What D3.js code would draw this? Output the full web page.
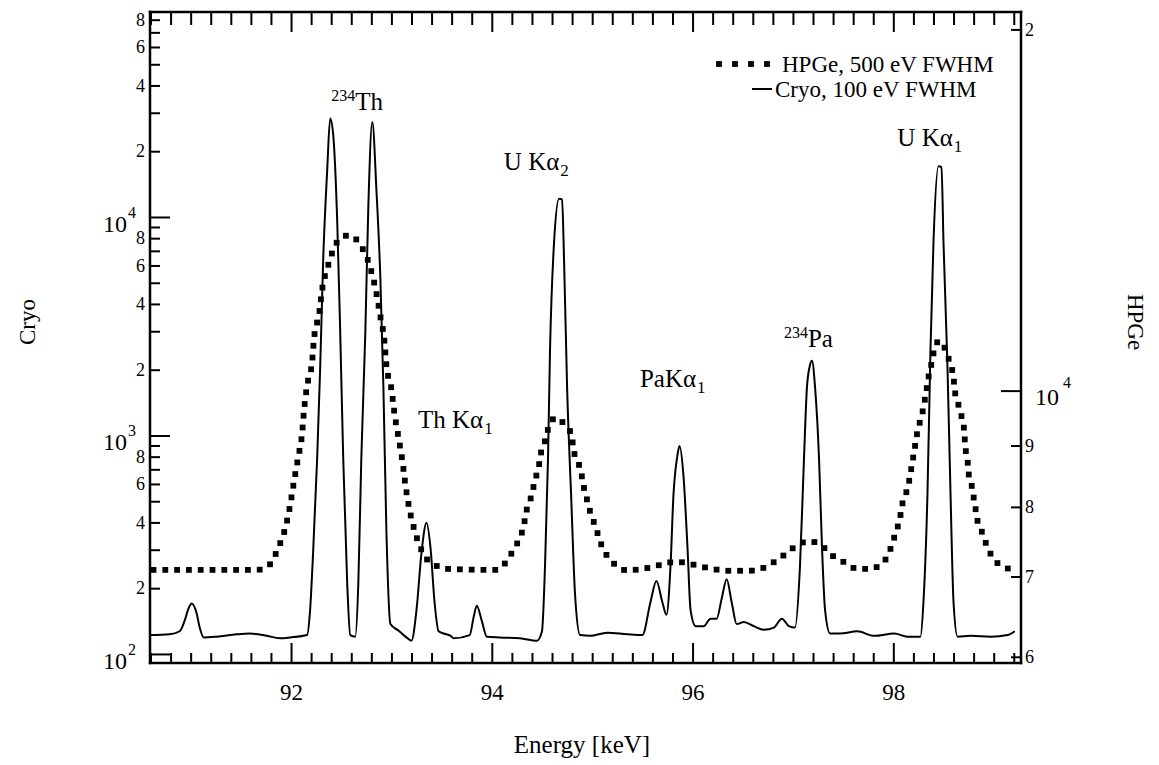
<!DOCTYPE html>
<html>
<head>
<meta charset="utf-8">
<script src="https://cdn.jsdelivr.net/npm/d3@7"></script>
<style>
  html, body { margin: 0; padding: 0; background: #fff; }
  svg { display: block; }
  text { font-family: "Liberation Serif", "Times New Roman", serif; fill: #000; }
</style>
</head>
<body>
<svg id="chart" width="1159" height="765"></svg>
<script>
// ---------------- data ----------------
const cryoEnergy = [90.59,90.79,90.89,90.94,90.98,91.01,91.06,91.09,91.13,91.26,91.46,91.59,91.76,91.89,91.99,92.16,92.19,92.22,92.26,92.29,92.32,92.36,92.39,92.42,92.46,92.49,92.52,92.56,92.59,92.64,92.67,92.70,92.74,92.77,92.81,92.85,92.89,92.92,92.95,92.99,93.07,93.14,93.20,93.25,93.30,93.35,93.39,93.43,93.47,93.52,93.59,
  93.62,93.78,93.82,93.85,93.90,93.95,94.08,94.28,94.45,94.50,94.53,94.56,94.58,94.62,94.67,94.70,94.72,94.75,94.79,94.83,94.88,94.98,95.15,95.35,95.50,95.58,95.64,95.70,95.74,95.78,95.81,95.85,95.87,95.91,95.95,95.98,96.03,96.11,96.18,96.24,96.29,96.34,96.39,96.44,
  96.51,96.61,96.71,96.81,96.89,96.96,97.02,97.07,97.11,97.14,97.17,97.19,97.22,97.26,97.29,97.32,97.37,97.47,97.64,97.81,98.01,98.14,98.27,98.30,98.34,98.37,98.40,98.45,98.48,98.50,98.54,98.57,98.60,98.64,98.77,98.97,99.14,99.21];
const cryoCounts = [122,123,127,142,162,170,153,132,119,120,123,124,121,118,119,122,159,292,783,2023,6310,16300,28250,23800,9577,2955,783,208,122,120,208,783,2955,11150,27180,13470,5222,1673,367,137,128,120,115,159,292,399,304,172,127,124,121,
  118,122,148,166,142,120,119,118,115,127,251,783,2446,7630,12120,12030,6310,1673,536,185,122,121,125,123,122,172,216,172,151,251,536,814,895,649,304,159,134,134,145,145,179,220,172,137,
  140,134,129,132,145,134,132,251,783,1673,2101,2198,1673,783,304,159,124,124,127,121,124,120,120,172,536,2446,7630,17050,16920,7630,2023,536,172,120,121,120,122,127];

const hpgeEnergy = [90.61,91.66,91.78,91.85,91.90,91.94,91.99,92.03,92.07,92.11,92.13,92.16,92.21,92.23,92.28,92.31,92.37,92.47,92.58,92.69,92.79,92.85,92.89,92.93,92.95,93.00,93.03,93.07,93.11,93.14,93.18,93.24,93.34,93.44,93.55,94.03,94.15,94.22,94.28,94.32,94.34,94.38,94.41,94.44,94.47,94.49,94.53,94.56,94.64,94.72,94.80,94.81,94.85,94.89,94.91,94.94,94.97,95.01,95.05,95.09,95.15,95.25,95.36,95.48,95.60,95.72,95.84,95.96,96.08,96.20,96.33,96.44,96.56,96.68,96.80,96.92,97.04,97.16,97.28,97.40,97.52,97.64,97.76,97.88,97.96,98.00,98.04,98.07,98.09,98.13,98.16,98.18,98.20,98.22,98.24,98.27,98.30,98.32,98.34,98.36,98.39,98.41,98.46,98.53,98.57,98.60,98.61,98.64,98.67,98.70,98.71,98.72,98.74,98.75,98.78,98.80,98.82,98.84,98.89,98.93,98.99,99.08,99.20];
const hpgeCounts = [7089,7089,7151,7318,7492,7664,8017,8403,8789,9206,9642,10093,10573,11073,11592,12141,12719,13333,13474,13225,12657,12058,11530,10998,10500,10031,9576,9144,8728,8339,7962,7600,7261,7151,7103,7089,7211,7378,7543,7726,7906,8088,8279,8472,8667,8873,9082,9285,9497,9380,9163,8954,8753,8549,8356,8166,7977,7798,7621,7445,7278,7141,7077,7103,7126,7176,7200,7176,7136,7103,7077,7077,7077,7103,7187,7302,7430,7492,7430,7278,7187,7103,7103,7166,7336,7506,7681,7864,8044,8230,8426,8621,8819,9028,9240,9451,9676,9899,10127,10368,10609,10853,11004,10757,10500,10261,10031,9797,9576,9361,9144,8937,8737,8533,8339,8150,7962,7780,7600,7430,7261,7141,7093];

const xMajorTicks = [92, 94, 96, 98];
const leftDecades = [100, 1000, 10000];
const leftDecadeExp = ["2", "3", "4"];
const leftMinorDigits = [2, 3, 4, 5, 6, 7, 8, 9];
const leftLabelDigits = [2, 4, 6, 8];
const rightMinorTicks = [6000, 7000, 8000, 9000, 20000];
const rightMinorLabels = ["6", "7", "8", "9", "2"];
const rightDecades = [10000];

const peakLabels = [
  {sup: "234", main: "Th", sub: "", e: 92.40, c: 30880},
  {sup: "", main: "U K\u03b1", sub: "2", e: 94.12, c: 16400},
  {sup: "", main: "Th K\u03b1", sub: "1", e: 93.265, c: 1082},
  {sup: "", main: "PaK\u03b1", sub: "1", e: 95.476, c: 1667},
  {sup: "234", main: "Pa", sub: "", e: 96.91, c: 2541},
  {sup: "", main: "U K\u03b1", sub: "1", e: 98.04, c: 21140}
];
const legendItems = ["HPGe, 500 eV FWHM", "Cryo, 100 eV FWHM"];

// ---------------- layout ----------------
const L = 150, R = 1021, T = 12, B = 663;
const serif = '"Liberation Serif", "Times New Roman", serif';
const svg = d3.select("#chart");

const x = d3.scaleLinear().domain([90.595, 99.272]).range([L, R]);
const yL = d3.scaleLog().domain([90.9, 86750]).range([B, T]);
const yR = d3.scaleLog().domain([5929, 20680]).range([B, T]);

// ---------------- curves ----------------
const cryoData = cryoEnergy.map((e, i) => [e, cryoCounts[i]]);
const hpgeData = hpgeEnergy.map((e, i) => [e, hpgeCounts[i]]);

const plot = svg.append("g");
plot.append("path")
  .datum(cryoData)
  .attr("fill", "none")
  .attr("stroke", "#000")
  .attr("stroke-width", 2)
  .attr("stroke-linejoin", "round")
  .attr("d", d3.line().x(d => x(d[0])).y(d => yL(d[1])).curve(d3.curveMonotoneX));

// HPGe: dotted line rendered as square dots along the path
const hpgePath = plot.append("path")
  .datum(hpgeData)
  .attr("fill", "none")
  .attr("stroke", "none")
  .attr("d", d3.line().x(d => x(d[0])).y(d => yR(d[1])).curve(d3.curveMonotoneX));
const node = hpgePath.node();
const total = node.getTotalLength();
const step = 11.8, sq = 5.8;
const dots = [];
for (let s = 2; s <= total; s += step) dots.push(node.getPointAtLength(s));
plot.selectAll("rect.dot").data(dots).enter().append("rect")
  .attr("class", "dot")
  .attr("x", p => p.x - sq / 2).attr("y", p => p.y - sq / 2)
  .attr("width", sq).attr("height", sq).attr("fill", "#000");

// ---------------- axes ----------------
const xMinor = d3.range(453, 497).map(v => v / 5).filter(v => xMajorTicks.indexOf(v) < 0);

function styleAxis(g) {
  g.attr("font-family", serif).attr("fill", "#000");
  g.select(".domain").remove();
  g.selectAll(".tick line").attr("stroke", "#000").attr("stroke-width", 2);
  g.selectAll(".tick text").attr("fill", "#000").attr("font-family", serif);
}

svg.append("g").attr("transform", `translate(0,${B})`)
  .call(d3.axisBottom(x).tickValues(xMinor).tickSize(-10).tickFormat(""))
  .call(styleAxis);
const xb = svg.append("g").attr("transform", `translate(0,${B})`)
  .call(d3.axisBottom(x).tickValues(xMajorTicks).tickSize(-20).tickFormat(d3.format("d")))
  .call(styleAxis);
xb.selectAll(".tick text").attr("font-size", 23).attr("y", 37).attr("dy", 0);

svg.append("g").attr("transform", `translate(0,${T})`)
  .call(d3.axisTop(x).tickValues(xMinor).tickSize(-13).tickFormat(""))
  .call(styleAxis);
svg.append("g").attr("transform", `translate(0,${T})`)
  .call(d3.axisTop(x).tickValues(xMajorTicks).tickSize(-20).tickFormat(""))
  .call(styleAxis);

// left (Cryo) log axis
const leftMinor = [];
leftDecades.forEach(dec => leftMinorDigits.forEach(k => {
  const v = dec * k; if (v <= yL.domain()[1]) leftMinor.push(v);
}));
const la = svg.append("g").attr("transform", `translate(${L},0)`)
  .call(d3.axisLeft(yL).tickValues(leftMinor).tickSize(-10).tickPadding(5)
    .tickFormat(v => { const k = Math.round(v / Math.pow(10, Math.floor(Math.log10(v) + 1e-9))); return leftLabelDigits.indexOf(k) >= 0 ? String(k) : ""; }))
  .call(styleAxis);
la.selectAll(".tick text").attr("font-size", 18);
svg.append("g").attr("transform", `translate(${L},0)`)
  .call(d3.axisLeft(yL).tickValues(leftDecades).tickSize(-20).tickFormat(""))
  .call(styleAxis);
leftDecades.forEach((v, i) => {
  const yy = yL(v);
  svg.append("text").attr("x", 127).attr("y", yy + 15).attr("text-anchor", "end")
    .attr("font-family", serif).attr("font-size", 24).text("10");
  svg.append("text").attr("x", 128).attr("y", yy + 1).attr("text-anchor", "start")
    .attr("font-family", serif).attr("font-size", 16).text(leftDecadeExp[i]);
});

// right (HPGe) log axis
const ra = svg.append("g").attr("transform", `translate(${R},0)`)
  .call(d3.axisRight(yR).tickValues(rightMinorTicks).tickSize(-10).tickPadding(4)
    .tickFormat((v, i) => rightMinorLabels[i]))
  .call(styleAxis);
ra.selectAll(".tick text").attr("font-size", 18);
svg.append("g").attr("transform", `translate(${R},0)`)
  .call(d3.axisRight(yR).tickValues(rightDecades).tickSize(-20).tickFormat(""))
  .call(styleAxis);
rightDecades.forEach(v => {
  const yy = yR(v);
  svg.append("text").attr("x", 1035).attr("y", yy + 14).attr("font-family", serif).attr("font-size", 24).text("10");
  svg.append("text").attr("x", 1063).attr("y", yy - 3).attr("font-family", serif).attr("font-size", 16).text("4");
});

// frame
const frame = svg.append("g").attr("stroke", "#000").attr("stroke-width", 2.5).attr("stroke-linecap", "square");
frame.append("line").attr("x1", L).attr("y1", T).attr("x2", R).attr("y2", T);
frame.append("line").attr("x1", L).attr("y1", B).attr("x2", R).attr("y2", B);
frame.append("line").attr("x1", L).attr("y1", T).attr("x2", L).attr("y2", B);
frame.append("line").attr("x1", R).attr("y1", T).attr("x2", R).attr("y2", B);

// ---------------- axis titles ----------------
svg.append("text").attr("x", 582).attr("y", 753).attr("text-anchor", "middle")
  .attr("font-family", serif).attr("font-size", 25).text("Energy [keV]");
svg.append("text").attr("transform", "translate(35,322) rotate(-90)").attr("text-anchor", "middle")
  .attr("font-family", serif).attr("font-size", 23).text("Cryo");
svg.append("text").attr("transform", "translate(1128,322) rotate(90)").attr("text-anchor", "middle")
  .attr("font-family", serif).attr("font-size", 23).text("HPGe");

// ---------------- peak labels ----------------
peakLabels.forEach(p => {
  const t = svg.append("text").attr("x", x(p.e)).attr("y", yL(p.c))
    .attr("font-family", serif).attr("font-size", 25).attr("fill", "#000");
  if (p.sup) t.append("tspan").attr("dy", -9).attr("font-size", 16).text(p.sup);
  t.append("tspan").attr("dy", p.sup ? 9 : 0).text(p.main);
  if (p.sub) t.append("tspan").attr("dy", 6).attr("dx", 1).attr("font-size", 17).text(p.sub);
});

// ---------------- legend ----------------
const lg = svg.append("g");
[719, 735, 751, 767].forEach(cx => {
  lg.append("rect").attr("x", cx - sq / 2).attr("y", 64 - sq / 2).attr("width", sq).attr("height", sq).attr("fill", "#000");
});
lg.append("text").attr("x", 782).attr("y", 72).attr("font-family", serif).attr("font-size", 23).text(legendItems[0]);
lg.append("line").attr("x1", 752).attr("x2", 772).attr("y1", 89).attr("y2", 89)
  .attr("stroke", "#000").attr("stroke-width", 2);
lg.append("text").attr("x", 775).attr("y", 97).attr("font-family", serif).attr("font-size", 23).text(legendItems[1]);
</script>
</body>
</html>
